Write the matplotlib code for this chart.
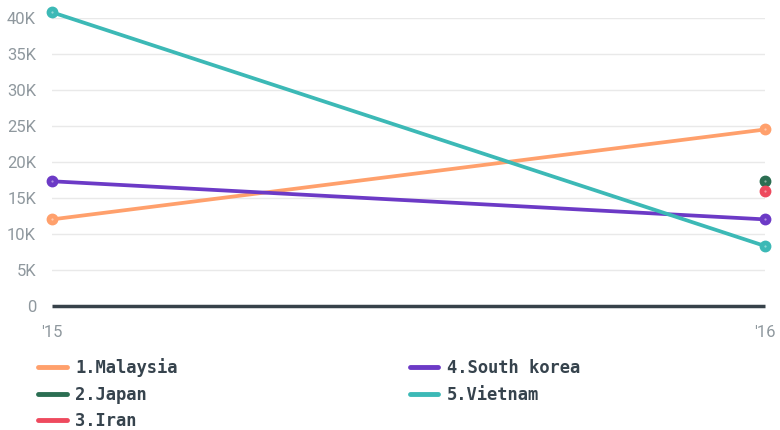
import numpy as np
import matplotlib.pyplot as plt

years = ["'15", "'16"]
malaysia = [12000, 24500]
japan = [np.nan, 17400]
iran = [np.nan, 16000]
south_korea = [17300, 12000]
vietnam = [40800, 8300]

series = [
    ("1.Malaysia", malaysia, "#ffa06c"),
    ("2.Japan", japan, "#2b6e52"),
    ("3.Iran", iran, "#ee4a5e"),
    ("4.South korea", south_korea, "#6c3ac6"),
    ("5.Vietnam", vietnam, "#3cb9b6"),
]

fig = plt.figure(figsize=(7.8, 4.3), dpi=100)
ax = fig.add_axes([52/780, 1 - 305.7/430, (765-52)/780, (305.7-18)/430])

x = np.arange(len(years))
for name, vals, col in series:
    ax.plot(x, vals, color=col, lw=2.7, marker="o", ms=7.5, label=name,
            clip_on=False, zorder=3, solid_capstyle="round")
    # faint centre dot like the original markers
    ax.plot(x, vals, "o", color="white", mew=0, ms=1.6, alpha=0.45, clip_on=False, zorder=4)

ax.set_xlim(0, 1)
ax.set_ylim(0, 40000)
ax.set_yticks(np.arange(0, 40001, 5000))
ax.set_yticklabels(["0"] + ["%dK" % (v // 1000) for v in range(5000, 40001, 5000)])
ax.set_xticks(x)
ax.set_xticklabels(years)
ax.grid(axis="y", color="#e9e9e9", lw=1)
ax.set_axisbelow(True)
for s in ax.spines.values():
    s.set_visible(False)
ax.axhline(0, color="#37424a", lw=2.5, zorder=2, clip_on=False, solid_capstyle="butt")
ax.tick_params(length=0, labelsize=12, labelcolor="#8f989e")
for lab in ax.get_yticklabels() + ax.get_xticklabels():
    lab.set_family("Roboto")
ax.tick_params(axis="y", pad=11.5)
ax.tick_params(axis="x", pad=14)

leg = fig.legend(loc="upper left", bbox_to_anchor=(23/780, 1 - 343/430), ncol=2,
                 frameon=False, handlelength=1.65, handletextpad=0.5,
                 columnspacing=13.6, labelspacing=0.5,
                 prop={"family": "DejaVu Sans Mono", "weight": "bold", "size": 12.3})
for t in leg.get_texts():
    t.set_color("#36434d")
for h in leg.legend_handles:
    h.set_marker("")
    h.set_linewidth(3.5)

fig.savefig("out.png", dpi=100)
